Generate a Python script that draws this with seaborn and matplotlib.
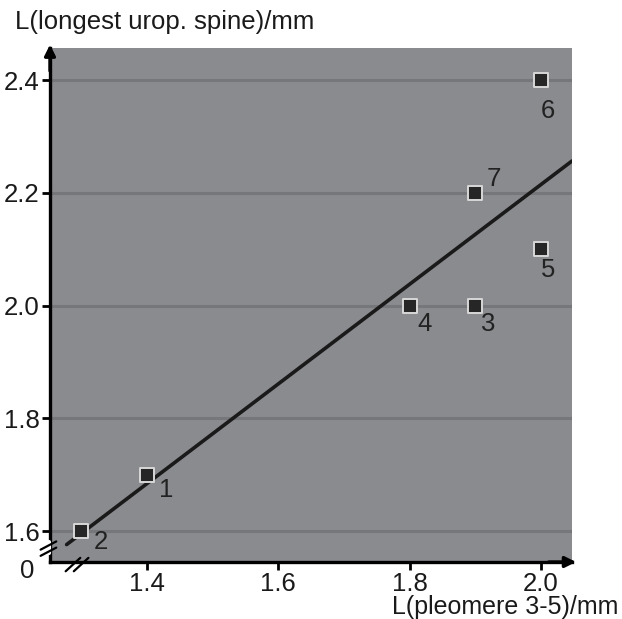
import numpy as np
import pandas as pd
import matplotlib
matplotlib.use("Agg")
import matplotlib.pyplot as plt
import seaborn as sns

# Data
pleomere = [1.4, 1.3, 1.9, 1.8, 2.0, 2.0, 1.9]
spine = [1.7, 1.6, 2.0, 2.0, 2.1, 2.4, 2.2]
labels = ["1", "2", "3", "4", "5", "6", "7"]
x_ticks = [1.4, 1.6, 1.8, 2.0]
y_ticks = [1.6, 1.8, 2.0, 2.2, 2.4]

sns.set_theme(style="white")
plt.rcParams['font.family'] = ['Liberation Sans', 'DejaVu Sans']

df = pd.DataFrame({"x": pleomere, "y": spine, "label": labels})

fig = plt.figure(figsize=(6.22, 6.19), dpi=100)
ax = fig.add_axes([50/622, 1-562/619, 522/622, 514/619])
bg = "#8a8b8f"
ax.set_facecolor(bg)

xlim = (1.2527, 2.047)
ylim = (1.545, 2.457)
ax.set_xlim(*xlim)
ax.set_ylim(*ylim)

for yt in y_ticks:
    ax.axhline(yt, color="#76777b", lw=2.2, zorder=1)

# regression line
slope, intercept = np.polyfit(df["x"], df["y"], 1)
xl = np.array([1.278, xlim[1]])
fit = pd.DataFrame({"x": xl, "y": slope * xl + intercept})
sns.lineplot(data=fit, x="x", y="y", ax=ax, color="#1a1a1a", lw=2.6, zorder=3)

sns.scatterplot(data=df, x="x", y="y", ax=ax, marker="s", s=95,
                color="#262626", edgecolor="#d8d8d8", linewidth=1.4, zorder=4)

offsets = {"1": (14, -11), "2": (14, -8), "3": (9, -13), "4": (11, -13),
           "5": (5, -15), "6": (5, -22), "7": (13, 10)}
for _, r in df.iterrows():
    dx, dy = offsets[r["label"]]
    ax.annotate(r["label"], (r["x"], r["y"]), xytext=(dx, dy), textcoords="offset points",
                ha="center", va="center", fontsize=18.5, color="#222222", zorder=5)

for s in ["top", "right"]:
    ax.spines[s].set_visible(False)
for s in ["left", "bottom"]:
    ax.spines[s].set_color("black")
    ax.spines[s].set_linewidth(2.4)

ax.set_xticks(x_ticks)
ax.set_yticks(y_ticks)
ax.set_xticklabels([f"{v:.1f}" for v in x_ticks])
ax.set_yticklabels([f"{v:.1f}" for v in y_ticks])
ax.tick_params(axis="both", which="both", direction="out", length=6, width=2,
               color="black", labelsize=18.5, labelcolor="#1a1a1a", pad=1.5,
               bottom=True, left=True)
ax.set_xlabel("")
ax.set_ylabel("")

# arrows
ax.annotate("", xy=(0, 1.012), xycoords="axes fraction", xytext=(0, 0.95),
            arrowprops=dict(arrowstyle="-|>", color="black", lw=2.4, mutation_scale=16),
            annotation_clip=False)
ax.annotate("", xy=(1.013, 0), xycoords="axes fraction", xytext=(0.95, 0),
            arrowprops=dict(arrowstyle="-|>", color="black", lw=2.4, mutation_scale=16),
            annotation_clip=False)

# axis break marks
for off in (0.0, 0.012):
    ax.plot([-0.018, 0.012], [0.02 + off - 0.008, 0.02 + off + 0.008],
            transform=ax.transAxes, color="black", lw=1.6, clip_on=False, zorder=6)
    ax.plot([0.03 + off * 1.3, 0.058 + off * 1.3], [-0.018, 0.008],
            transform=ax.transAxes, color="black", lw=1.6, clip_on=False, zorder=6)
# gap in axes
ax.plot([-0.001, -0.001], [0.018, 0.038], transform=ax.transAxes, color="white",
        lw=3, clip_on=False, zorder=5.5)

ax.text(-0.043, -0.018, "0", transform=ax.transAxes, ha="center", va="center",
        fontsize=18.5, color="#1a1a1a")

fig.text(15/622, 1-22/619, "L(longest urop. spine)/mm", ha="left", va="center",
         fontsize=18.5, color="#1a1a1a")
fig.text(505/622, 1-607/619, "L(pleomere 3-5)/mm", ha="center", va="center",
         fontsize=18, color="#1a1a1a")

fig.savefig("out.png", dpi=100, facecolor="white")
